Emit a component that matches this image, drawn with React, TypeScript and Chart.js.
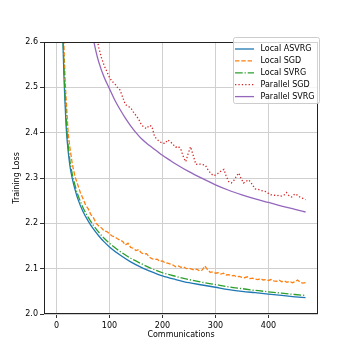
import { useEffect, useRef } from 'react';
import { Chart, registerables } from 'chart.js';

Chart.register(...registerables);

const xTicks = [0, 100, 200, 300, 400];
const yTicks = [2.0, 2.1, 2.2, 2.3, 2.4, 2.5, 2.6];

const seriesNames = ['Local ASVRG', 'Local SGD', 'Local SVRG', 'Parallel SGD', 'Parallel SVRG'];

const smoothX = [8, 10, 12, 14, 16, 18, 20, 25, 30, 35, 40, 50, 60, 70, 80, 90, 100, 120, 140, 160, 180, 200, 225, 250, 275, 300, 325, 350, 375, 400, 425, 450, 470];
const localAsvrg = [2.85, 2.70, 2.61, 2.53, 2.47, 2.42, 2.385, 2.33, 2.298, 2.275, 2.255, 2.226, 2.205, 2.187, 2.172, 2.159, 2.148, 2.130, 2.115, 2.103, 2.093, 2.084, 2.076, 2.069, 2.064, 2.059, 2.054, 2.050, 2.047, 2.044, 2.041, 2.038, 2.036];
const localSvrg = [2.88, 2.72, 2.63, 2.55, 2.49, 2.44, 2.40, 2.342, 2.308, 2.284, 2.264, 2.235, 2.213, 2.195, 2.180, 2.167, 2.156, 2.138, 2.123, 2.111, 2.100, 2.091, 2.083, 2.076, 2.070, 2.065, 2.060, 2.056, 2.052, 2.049, 2.046, 2.043, 2.041];

const localSgdX = [10, 13, 15, 17, 20, 22, 25, 30, 35, 40, 45, 50, 55, 60, 65, 70, 75, 80, 85, 90, 95, 100, 105, 110, 115, 120, 125, 130, 135, 140, 145, 150, 155, 160, 165, 170, 175, 180, 185, 190, 195, 200, 205, 210, 215, 220, 225, 230, 235, 240, 245, 250, 255, 260, 265, 270, 275, 280, 285, 290, 295, 300, 305, 310, 315, 320, 325, 330, 335, 340, 345, 350, 355, 360, 365, 370, 375, 380, 385, 390, 395, 400, 405, 410, 415, 420, 425, 430, 435, 440, 445, 450, 455, 460, 465, 470];
const localSgd = [2.80, 2.63, 2.56, 2.50, 2.44, 2.40, 2.37, 2.33, 2.303, 2.286, 2.268, 2.255, 2.240, 2.232, 2.219, 2.212, 2.200, 2.194, 2.190, 2.183, 2.182, 2.177, 2.172, 2.170, 2.166, 2.163, 2.160, 2.152, 2.156, 2.147, 2.145, 2.140, 2.142, 2.135, 2.132, 2.133, 2.126, 2.122, 2.120, 2.121, 2.116, 2.117, 2.113, 2.112, 2.110, 2.108, 2.104, 2.106, 2.103, 2.104, 2.100, 2.101, 2.099, 2.097, 2.099, 2.095, 2.097, 2.106, 2.098, 2.092, 2.093, 2.090, 2.091, 2.088, 2.090, 2.086, 2.087, 2.084, 2.085, 2.082, 2.083, 2.081, 2.080, 2.082, 2.078, 2.079, 2.077, 2.076, 2.078, 2.075, 2.076, 2.074, 2.076, 2.073, 2.072, 2.075, 2.071, 2.073, 2.070, 2.072, 2.069, 2.071, 2.075, 2.070, 2.068, 2.069];

const parallelSgdX = [70, 75, 80, 85, 90, 95, 100, 105, 110, 115, 120, 125, 130, 135, 140, 145, 150, 155, 160, 165, 170, 175, 180, 185, 190, 195, 200, 205, 210, 215, 220, 225, 230, 235, 240, 244, 248, 253, 258, 263, 268, 275, 281, 286, 292, 297, 302, 306, 311, 316, 320, 325, 330, 335, 340, 344, 348, 353, 358, 363, 368, 375, 380, 385, 390, 395, 400, 405, 410, 415, 420, 425, 430, 434, 438, 444, 450, 455, 460, 465, 470];
const parallelSgd = [2.67, 2.615, 2.587, 2.565, 2.548, 2.535, 2.522, 2.513, 2.508, 2.500, 2.494, 2.478, 2.462, 2.458, 2.455, 2.446, 2.438, 2.430, 2.418, 2.412, 2.409, 2.416, 2.414, 2.392, 2.385, 2.380, 2.377, 2.376, 2.384, 2.380, 2.374, 2.368, 2.370, 2.362, 2.345, 2.336, 2.352, 2.369, 2.350, 2.330, 2.331, 2.330, 2.328, 2.318, 2.309, 2.305, 2.308, 2.311, 2.316, 2.319, 2.305, 2.292, 2.289, 2.295, 2.305, 2.311, 2.300, 2.289, 2.293, 2.296, 2.288, 2.276, 2.275, 2.273, 2.271, 2.270, 2.266, 2.263, 2.262, 2.261, 2.262, 2.260, 2.263, 2.268, 2.262, 2.258, 2.265, 2.262, 2.257, 2.255, 2.252];

const parallelSvrgX = [60, 65, 70, 75, 80, 90, 100, 110, 120, 130, 140, 150, 160, 175, 190, 200, 213, 225, 250, 275, 300, 325, 350, 375, 400, 425, 450, 470];
const parallelSvrg = [2.69, 2.645, 2.605, 2.577, 2.555, 2.522, 2.497, 2.472, 2.451, 2.432, 2.415, 2.400, 2.387, 2.372, 2.359, 2.350, 2.340, 2.331, 2.314, 2.299, 2.285, 2.273, 2.263, 2.254, 2.246, 2.238, 2.231, 2.225];

const colors = ['#1f77b4', '#ff7f0e', '#2ca02c', '#d62728', '#9467bd'];
const dashes: number[][] = [[], [4.4, 1.9], [7.7, 1.9, 1.2, 1.9], [1.3, 2.1], []];

const FONT = '"DejaVu Sans", sans-serif';

const toPoints = (xs: number[], ys: number[]) => xs.map((x, i) => ({ x, y: ys[i] }));

const framePlugin = {
  id: 'frameAndLegend',
  afterDatasetsDraw(chart: any) {
    const { ctx, chartArea } = chart;
    const { left, right, top, bottom } = chartArea;
    ctx.save();
    ctx.setLineDash([]);
    ctx.strokeStyle = '#222';
    ctx.lineWidth = 1;
    ctx.strokeRect(left + 0.5, top + 0.5, right - left - 1, bottom - top - 1);

    // legend
    const bx = 233.5, by = 37.5, bw = 86, bh = 66, r = 2;
    ctx.beginPath();
    ctx.moveTo(bx + r, by);
    ctx.lineTo(bx + bw - r, by);
    ctx.quadraticCurveTo(bx + bw, by, bx + bw, by + r);
    ctx.lineTo(bx + bw, by + bh - r);
    ctx.quadraticCurveTo(bx + bw, by + bh, bx + bw - r, by + bh);
    ctx.lineTo(bx + r, by + bh);
    ctx.quadraticCurveTo(bx, by + bh, bx, by + bh - r);
    ctx.lineTo(bx, by + r);
    ctx.quadraticCurveTo(bx, by, bx + r, by);
    ctx.closePath();
    ctx.fillStyle = 'rgba(255,255,255,0.8)';
    ctx.fill();
    ctx.strokeStyle = '#cccccc';
    ctx.stroke();

    ctx.font = `8px ${FONT}`;
    ctx.textBaseline = 'middle';
    ctx.textAlign = 'left';
    seriesNames.forEach((name, i) => {
      const y = 49 + i * 11.9;
      ctx.beginPath();
      ctx.setLineDash(dashes[i]);
      ctx.strokeStyle = colors[i];
      ctx.lineWidth = 1.3;
      ctx.moveTo(235, y);
      ctx.lineTo(254, y);
      ctx.stroke();
      ctx.setLineDash([]);
      ctx.fillStyle = '#000';
      ctx.fillText(name, 260.5, y);
    });
    ctx.restore();
  },
};

export default function App() {
  const canvasRef = useRef<HTMLCanvasElement | null>(null);

  useEffect(() => {
    const canvas = canvasRef.current;
    if (!canvas) return;
    const seriesData = [
      toPoints(smoothX, localAsvrg),
      toPoints(localSgdX, localSgd),
      toPoints(smoothX, localSvrg),
      toPoints(parallelSgdX, parallelSgd),
      toPoints(parallelSvrgX, parallelSvrg),
    ];
    const smooth = [true, false, true, false, true];
    const chart = new Chart(canvas, {
      type: 'line',
      data: {
        datasets: seriesData.map((d, i) => ({
          label: seriesNames[i],
          data: d,
          borderColor: colors[i],
          backgroundColor: colors[i],
          borderWidth: 1.3,
          borderDash: dashes[i],
          pointRadius: 0,
          fill: false,
          tension: 0,
          cubicInterpolationMode: smooth[i] ? 'monotone' : 'default',
          order: 5 - i,
        })),
      },
      options: {
        responsive: false,
        animation: false,
        devicePixelRatio: 1,
        layout: { padding: { top: 42, right: 36, bottom: 0, left: 0 } },
        plugins: {
          legend: { display: false },
          title: { display: false },
          tooltip: { enabled: false },
        },
        scales: {
          x: {
            type: 'linear',
            min: -23.5,
            max: 493.5,
            afterBuildTicks: (scale: any) => {
              scale.ticks = xTicks.map((v) => ({ value: v }));
            },
            afterFit: (scale: any) => {
              scale.height = 40;
            },
            ticks: {
              font: { family: FONT, size: 8 },
              color: '#000',
              padding: 3,
              maxRotation: 0,
              autoSkip: false,
              callback: (v: any) => String(v),
            },
            grid: { color: '#d0d0d0', lineWidth: 1, tickLength: 4, tickColor: '#333', drawTicks: true },
            border: { display: false },
            title: {
              display: true,
              text: 'Communications',
              font: { family: FONT, size: 8 },
              color: '#000',
              padding: { top: 0, bottom: 14.5 },
            },
          },
          y: {
            type: 'linear',
            min: 2.0,
            max: 2.6,
            afterBuildTicks: (scale: any) => {
              scale.ticks = yTicks.map((v) => ({ value: v }));
            },
            afterFit: (scale: any) => {
              scale.width = 44;
            },
            ticks: {
              font: { family: FONT, size: 8 },
              color: '#000',
              padding: 2,
              autoSkip: false,
              callback: (v: any) => Number(v).toFixed(1),
            },
            grid: { color: '#d0d0d0', lineWidth: 1, tickLength: 4, tickColor: '#333', drawTicks: true },
            border: { display: false },
            title: {
              display: true,
              text: 'Training Loss',
              font: { family: FONT, size: 8 },
              color: '#000',
              padding: { top: 12, bottom: 0 },
            },
          },
        },
      },
      plugins: [framePlugin],
    } as any);
    return () => chart.destroy();
  }, []);

  return (
    <div style={{ position: 'fixed', left: 0, top: 0, width: 354, height: 354, background: '#fff' }}>
      <canvas ref={canvasRef} width={354} height={354} style={{ width: 354, height: 354, display: 'block' }} />
    </div>
  );
}
